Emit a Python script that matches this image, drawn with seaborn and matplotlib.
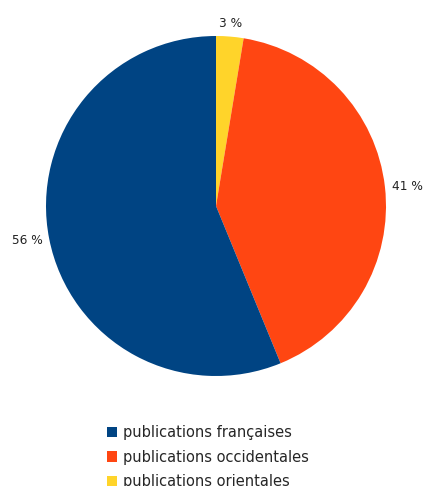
import matplotlib
matplotlib.use("Agg")
import matplotlib.pyplot as plt
import seaborn as sns
from matplotlib.patches import Patch

# Data (shares, labels are rounded)
categories = ["publications françaises", "publications occidentales", "publications orientales"]
shares = [56.2, 41.2, 2.6]
colors = ["#004483", "#FF4612", "#FFD42A"]

sns.set_theme(style="white")
plt.rcParams['font.family'] = ['DejaVu Sans']

fig = plt.figure(figsize=(4.24, 4.86), dpi=100)
ax = fig.add_axes([46 / 424, 110 / 486, 340 / 424, 340 / 486])

# draw clockwise from the top, starting with the smallest slice
order = [2, 1, 0]
wedges, texts = ax.pie([shares[i] for i in order],
                       colors=[colors[i] for i in order],
                       labels=[f"{shares[i]:.0f} %" for i in order],
                       startangle=90, counterclock=False, labeldistance=1.04,
                       textprops={'fontsize': 8.7, 'color': '#222222'},
                       wedgeprops={'linewidth': 0})
ax.set_xlim(-1, 1)
ax.set_ylim(-1, 1)
ax.set_aspect('equal')
ax.axis('off')

# small top slice label sits centred above the pie
texts[0].set_ha('center')
texts[0].set_va('bottom')

handles = [Patch(facecolor=c, edgecolor='none') for c in colors]
fig.legend(handles, categories, loc='upper left', bbox_to_anchor=(107 / 424, 1 - 425 / 486),
           frameon=False, fontsize=10.5, handlelength=0.7, handleheight=0.7,
           handletextpad=0.4, labelspacing=0.66, borderaxespad=0, borderpad=0)

fig.savefig("out.png", dpi=100)
